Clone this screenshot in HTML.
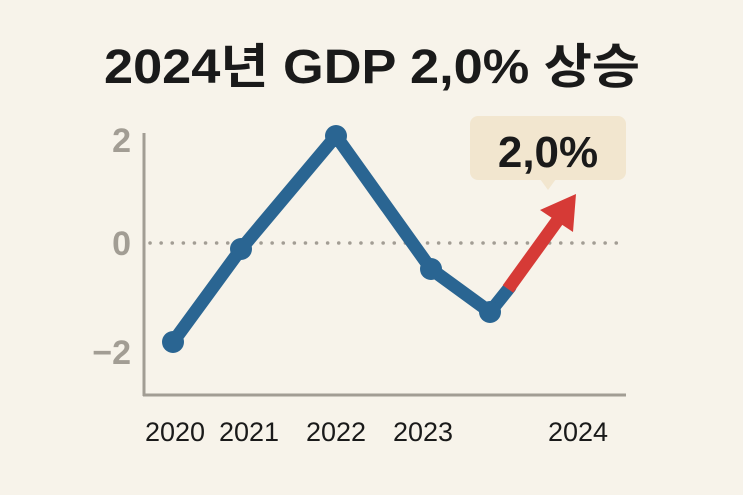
<!DOCTYPE html>
<html><head><meta charset="utf-8"><style>
html,body{margin:0;padding:0;background:#f7f3ea;}
svg{display:block}
</style></head><body>
<svg width="743" height="495" viewBox="0 0 743 495" xmlns="http://www.w3.org/2000/svg">
<rect width="743" height="495" fill="#f7f3ea"/>
<text x="372" y="83" text-anchor="middle" font-family="'Liberation Sans','Noto Sans CJK KR',sans-serif" font-weight="bold" font-size="48" textLength="536" lengthAdjust="spacingAndGlyphs" fill="#1a1a1a">2024년 GDP 2,0% 상승</text>
<line x1="144" y1="133" x2="144" y2="396" stroke="#a29d94" stroke-width="3"/>
<line x1="143" y1="395" x2="626" y2="395" stroke="#a29d94" stroke-width="3"/>
<line x1="150" y1="243" x2="624" y2="243" stroke="#a29d94" stroke-width="3.5" stroke-dasharray="0.1 11" stroke-linecap="round"/>
<g font-family="'Liberation Sans',sans-serif" font-weight="bold" font-size="34" fill="#a29d94" text-anchor="end">
<text x="131" y="152">2</text>
<text x="131" y="255">0</text>
<text x="131" y="364">−2</text>
</g>
<g font-family="'Liberation Sans',sans-serif" font-size="27" fill="#1a1a1a" text-anchor="middle">
<text x="175" y="441">2020</text>
<text x="249" y="441">2021</text>
<text x="336" y="441">2022</text>
<text x="423" y="441">2023</text>
<text x="578" y="441">2024</text>
</g>
<polyline points="173,342 241,249 336,136 431,269 490,312 510,287" fill="none" stroke="#2a6592" stroke-width="13" stroke-linejoin="round" stroke-linecap="round"/>
<line x1="508" y1="289" x2="560" y2="217" stroke="#d63a36" stroke-width="13"/>
<polygon points="576,194 573,232 540,210" fill="#d63a36"/>
<g fill="#2a6592">
<circle cx="173" cy="342" r="11"/><circle cx="241" cy="249" r="11"/><circle cx="336" cy="136" r="11"/><circle cx="431" cy="269" r="11"/><circle cx="490" cy="312" r="11"/>
</g>
<rect x="470" y="116" width="156" height="64" rx="8" fill="#f2e6cf"/>
<polygon points="540,179 556,179 548,190" fill="#f2e6cf"/>
<text x="548" y="167" text-anchor="middle" font-family="'Liberation Sans',sans-serif" font-weight="bold" font-size="44" fill="#1a1a1a">2,0%</text>
</svg>
</body></html>
